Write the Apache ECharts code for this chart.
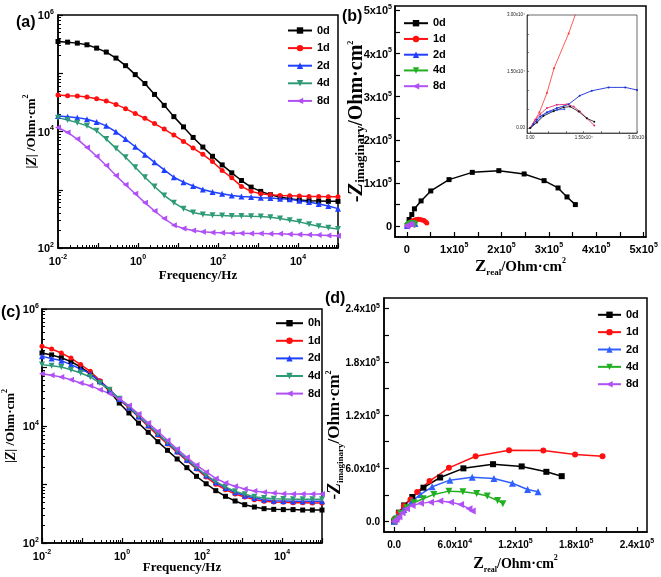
<!DOCTYPE html>
<html><head><meta charset="utf-8">
<script src="https://cdn.jsdelivr.net/npm/echarts@6/dist/echarts.min.js"></script>
<style>html,body{margin:0;padding:0;background:#fff}#c{width:661px;height:577px}</style>
</head><body><div id="c"></div>
<script>
// ---------- DATA ----------
const freq = [0.01,0.0174,0.0304,0.053,0.0924,0.161,0.281,0.489,0.853,1.49,2.59,4.52,7.88,13.7,23.9,41.8,72.8,127,221,386,672,1170,2040,3560,6210,10800,18900,32900,57400,100000];
// panel (a) |Z|
const a0d = [351000,342000,329000,308000,270000,231000,182000,135000,94800,66700,43300,28100,18000,12000,7910,5410,3750,2670,1950,1440,1110,938,822,750,703,667,650,641,632,632];
const a1d = [42200,41100,40600,39000,36600,33300,29200,24700,20300,16900,13700,11000,8670,6760,5200,4060,3040,2140,1600,1140,938,855,822,800,791,780,769,769,760,760];
const a2d = [18500,18000,17300,16200,14600,12500,9860,7400,5480,4000,2960,2190,1640,1350,1160,1010,912,855,800,769,750,731,721,703,684,650,617,570,527,474];
const a4d = [17300,15800,14200,12500,10300,7400,5130,3610,2430,1640,1140,800,600,474,406,375,366,361,356,356,351,347,337,321,300,281,256,237,222,211];
const a8d = [11700,9620,7400,5330,3750,2600,1750,1220,855,600,432,321,247,216,200,190,185,182,180,180,178,178,175,175,173,171,169,167,164,162];
// panel (c) |Z|
const c0h = [177000,164000,147000,126000,102000,78500,57300,39200,24700,16700,11200,7800,5400,3840,2730,1940,1380,1030,785,628,522,452,412,386,376,372,372,366,366,366];
const c1d = [230000,207000,177000,145000,112000,85900,59600,41800,28200,20300,14300,9860,6920,4920,3550,2550,1840,1340,1010,817,689,611,551,515,502,495,489,489,483,483];
const c2d = [155000,142000,131000,112000,94200,78500,58100,41800,29000,20800,14600,10300,7290,5120,3690,2650,1910,1420,1090,871,735,644,587,551,530,522,515,515,515,515];
const c4d = [112000,107000,102000,91800,80500,68900,54300,41800,29300,21100,15000,10500,7400,5260,3780,2730,1960,1440,1120,906,764,679,619,587,572,565,557,557,557,557];
const c8d = [78500,73500,68900,61900,54300,48900,41800,35700,29300,22300,16000,11200,8110,5690,4050,2910,2150,1640,1270,1060,931,838,774,735,716,697,689,689,689,689];
// panel (b) Nyquist [Zreal, -Zimag]
const b0d = [[1000,2000],[4800,15500],[10500,27000],[16000,40200],[30100,58600],[50500,81700],[89100,107900],[138200,124700],[194300,128600],[247700,121000],[289800,105500],[319300,88600],[338200,67800],[355800,50100]];
const b1d = [[500,300],[3000,4500],[6000,8500],[10500,11500],[15000,14000],[19600,15500],[24000,16000],[28000,15500],[32000,14500],[36400,13100],[39500,10500],[42100,7700]];
const b2d = [[300,300],[2000,3000],[5000,5500],[9000,7000],[13000,7200],[16000,6500],[18000,5500]];
const b4d = [[300,200],[2000,3000],[4500,5500],[8000,7000],[11000,7200],[13500,6800],[15500,5500],[16800,4000],[17500,2800]];
const b8d = [[0,-500],[1000,1500],[2500,3500],[4500,4800],[6500,5200],[8000,5000],[9500,4000],[10500,3000]];
// inset of (b), units of 1e4
const insRed = [[0,0],[0.26,0.42],[0.47,0.93],[0.67,1.59],[1.08,2.51],[1.45,3.5]];
const insBlue = [[0,0],[0.09,0.11],[0.19,0.22],[0.28,0.31],[0.47,0.42],[0.75,0.53],[1.08,0.63],[1.39,0.86],[1.73,0.99],[2.20,1.08],[2.67,1.08],[3.0,1.01],[3.3,0.9]];
const insBlue2 = [[0,0],[0.19,0.17],[0.37,0.35],[0.56,0.44],[0.75,0.48],[0.96,0.50]];
const insPink = [[0,0],[0.14,0.22],[0.28,0.37],[0.47,0.53],[0.75,0.62],[1.03,0.63],[1.22,0.57],[1.40,0.44],[1.59,0.26],[1.80,0.07]];
const insBlack = [[0,0],[0.19,0.15],[0.37,0.32],[0.66,0.45],[0.94,0.55],[1.12,0.57],[1.36,0.44],[1.59,0.26],[1.80,0.17]];
// panel (d) Nyquist
const d0d = [[0,0],[1300,2200],[4700,9800],[10000,18000],[18000,27500],[29000,38000],[45500,49500],[68500,59800],[97800,64500],[126100,62000],[150500,55900],[165700,51000]];
const d1d = [[0,0],[1400,2300],[4700,9800],[9600,17200],[16200,24800],[22800,33000],[35000,45400],[54200,60400],[80600,73500],[113600,80300],[147500,79900],[178900,75400],[206000,73500]];
const d2d = [[0,0],[3000,5300],[9600,13500],[17800,22900],[26100,30400],[37600,39000],[55100,46500],[77200,49900],[98700,48400],[117000,43000],[132000,36000],[142300,33400]];
const d4d = [[0,0],[2400,3000],[6300,9000],[12300,15400],[19500,21000],[28700,25500],[39300,30400],[54200,34100],[68000,33400],[81600,31500],[92100,28500],[102300,23600],[107500,20000]];
const d8d = [[0,0],[2000,2500],[4700,5300],[7900,9800],[12300,14300],[17800,18000],[26100,20300],[36000,21700],[45200,22900],[55800,21700],[65700,19100],[74000,14300],[77200,11600]];
// tick labels
const logXLabels = [0.01,1,100,10000];
const logXTicks = [0.01,0.1,1,10,100,1000,10000,100000];
const logYLabels = [100,10000,1000000];
const logYTicks = [100,1000,10000,100000,1000000];
const bLabels = [0,100000,200000,300000,400000,500000];
const bTicks = [0,50000,100000,150000,200000,250000,300000,350000,400000,450000,500000];
const dLabels = [0,60000,120000,180000,240000];
const dTicks = [0,30000,60000,90000,120000,150000,180000,210000,240000];
const insLabels = [0,1.5,3.0];

// ---------- STYLE ----------
const SANS = '"Liberation Sans Narrow","Liberation Sans",Arial,sans-serif';
const SERIF = '"Liberation Serif","Times New Roman",serif';
const BLK = '#000';
const COL = {k:'#000000', r:'#ff1010', b:'#2040ff', t:'#2f9a78', p:'#b050f5', g:'#22b022', bd:'#3060ff'};
const SYM = {sq:'rect', ci:'circle', up:'triangle', dn:'path://M0,0L10,0L5,9Z', lf:'path://M0,5L9,0L9,10Z'};

function minorLog(lo, hi){ const out=[]; for(let e=lo;e<hi;e++){ for(let m=2;m<10;m++) out.push(m*Math.pow(10,e)); } return out; }
function fmtLog(v){ const e=Math.round(Math.log10(v)); return '{b|10}{s|'+e+'}'; }
function fmtSci0(v){ if(v===0) return '{b|0}'; const e=Math.floor(Math.log10(v)+1e-9); return '{b|'+Math.round(v/Math.pow(10,e))+'x10}{s|'+e+'}'; }
function fmtSci1(v){ if(v===0) return '{b|0.0}'; const e=Math.floor(Math.log10(v)+1e-9); return '{b|'+(v/Math.pow(10,e)).toFixed(1)+'x10}{s|'+e+'}'; }
function labRich(fs){
  return {
    b:{fontSize:fs,fontWeight:'bold',fontFamily:SANS,color:BLK,lineHeight:fs+2,verticalAlign:'bottom'},
    s:{fontSize:7,fontWeight:'bold',fontFamily:SANS,color:BLK,lineHeight:7,verticalAlign:'top'}
  };
}
function nameRich(big, small){
  return {
    n:{fontSize:big,fontWeight:'bold',fontFamily:SERIF,color:BLK,lineHeight:20,verticalAlign:'middle'},
    z:{fontSize:big+1,fontWeight:'bold',fontStyle:'italic',fontFamily:SERIF,color:BLK,lineHeight:20,verticalAlign:'middle'},
    zr:{fontSize:big+2,fontWeight:'bold',fontFamily:SERIF,color:BLK,lineHeight:20,verticalAlign:'middle'},
    sub:{fontSize:small,fontWeight:'bold',fontFamily:SERIF,color:BLK,lineHeight:small+1,verticalAlign:'bottom'},
    p:{fontSize:8,fontWeight:'bold',fontFamily:SERIF,color:BLK,lineHeight:8,verticalAlign:'top'}
  };
}
function mainAxis(o){
  const ax = {
    gridIndex:o.g, type:o.type, min:o.min, max:o.max, position:o.pos,
    axisLine:{show:true,onZero:false,lineStyle:{color:BLK,width:1.5}},
    axisTick:{show:true,inside:true,length:o.tl||5,customValues:o.ticks,lineStyle:{color:BLK,width:1.2}},
    axisLabel:{show:true,customValues:o.labels,formatter:o.fmt,margin:o.margin,rich:labRich(o.fs||11),color:BLK},
    splitLine:{show:false}, minorTick:{show:false},
    name:o.name, nameLocation:'middle', nameGap:o.nameGap, nameRotate:o.rot||0, nameMoveOverlap:false,
    nameTextStyle:{rich:o.nameRich, padding:o.namePad||0}
  };
  if(o.type==='log') ax.logBase=10;
  return ax;
}
function minorAxis(o){
  return {gridIndex:o.g, type:'log', logBase:10, min:o.min, max:o.max, position:o.pos, offset:0,
    axisLine:{show:false,onZero:false}, axisTick:{show:true,inside:true,length:3,customValues:o.ticks,lineStyle:{color:BLK,width:1}},
    axisLabel:{show:false}, splitLine:{show:false}};
}
const titleZ = '{n||}{z|Z}{n|| /Ohm·cm}{p|2}';
const titleImag = '{n|-}{z|Z}{sub|imaginary}{n|/Ohm·cm}{p|2}';
const titleReal = '{zr|Z}{sub|real}{n|/Ohm·cm}{p|2}';
const titleFreq = '{n|Frequency/Hz}';

const xAxis = [
  mainAxis({g:0,type:'log',min:0.01,max:100000,pos:'bottom',ticks:logXTicks,labels:logXLabels,fmt:fmtLog,margin:6,name:titleFreq,nameGap:18,nameRich:nameRich(13,9)}),
  mainAxis({g:1,type:'value',min:-25000,max:505000,pos:'bottom',ticks:bTicks,labels:bLabels,fmt:fmtSci0,margin:5,name:titleReal,nameGap:20,nameRich:nameRich(15,9)}),
  mainAxis({g:2,type:'log',min:0.01,max:100000,pos:'bottom',ticks:logXTicks,labels:logXLabels,fmt:fmtLog,margin:6,name:titleFreq,nameGap:15,nameRich:nameRich(13,9)}),
  mainAxis({g:3,type:'value',min:-10000,max:250000,pos:'bottom',ticks:dTicks,labels:dLabels,fmt:fmtSci1,fs:10,margin:6,name:titleReal,nameGap:22,nameRich:nameRich(14,8)}),
  {gridIndex:4,type:'value',min:-0.09,max:3.0,position:'bottom',
    axisLine:{show:true,onZero:false,lineStyle:{color:'#333',width:0.8}},
    axisTick:{show:true,inside:true,length:2,customValues:[0,0.5,1,1.5,2,2.5,3],lineStyle:{color:'#333',width:0.6}},
    axisLabel:{customValues:insLabels,formatter:v=>v===0?'0.00':v.toFixed(2)+'x10⁴',fontSize:4.5,margin:2,color:'#222',fontFamily:SANS},
    splitLine:{show:false}},
  minorAxis({g:0,min:0.01,max:100000,pos:'bottom',ticks:minorLog(-2,5)}),
  minorAxis({g:2,min:0.01,max:100000,pos:'bottom',ticks:minorLog(-2,5)})
];
const yAxis = [
  mainAxis({g:0,type:'log',min:100,max:1000000,pos:'left',ticks:logYTicks,labels:logYLabels,fmt:fmtLog,margin:4,name:titleZ,nameGap:16,rot:90,nameRich:nameRich(13,9)}),
  mainAxis({g:1,type:'value',min:-25000,max:510000,pos:'left',ticks:bTicks,labels:bLabels,fmt:fmtSci0,margin:3,name:titleImag,nameGap:28,rot:90,nameRich:nameRich(20,13)}),
  mainAxis({g:2,type:'log',min:100,max:1000000,pos:'left',ticks:logYTicks,labels:logYLabels,fmt:fmtLog,margin:3,name:titleZ,nameGap:21,rot:90,nameRich:nameRich(13,9)}),
  mainAxis({g:3,type:'value',min:-12000,max:252000,pos:'left',ticks:dTicks,labels:dLabels,fmt:fmtSci1,fs:10,margin:4,name:titleImag,nameGap:39,rot:90,nameRich:nameRich(17,9),namePad:[0,40,0,0]}),
  {gridIndex:4,type:'value',min:-0.13,max:3.0,position:'left',
    axisLine:{show:true,onZero:false,lineStyle:{color:'#333',width:0.8}},
    axisTick:{show:true,inside:true,length:2,customValues:[0,0.5,1,1.5,2,2.5,3],lineStyle:{color:'#333',width:0.6}},
    axisLabel:{customValues:insLabels,formatter:v=>v===0?'0.00':v.toFixed(2)+'x10⁴',fontSize:4.5,margin:2,color:'#222',fontFamily:SANS},
    splitLine:{show:false}},
  minorAxis({g:0,min:100,max:1000000,pos:'left',ticks:minorLog(2,6)}),
  minorAxis({g:2,min:100,max:1000000,pos:'left',ticks:minorLog(2,6)})
];

function pairs(xs, ys){ return xs.map((x,i)=>[x, ys[i]]); }
function ser(name, data, color, sym, xi, size, lw){
  return {name, type:'line', data, xAxisIndex:xi, yAxisIndex:xi, symbol:sym, symbolSize:size,
    showSymbol:true, animation:false, clip:true,
    lineStyle:{color, width:lw||1.5}, itemStyle:{color, borderWidth:0}, emphasis:{disabled:true}};
}
const series = [
  ser('a_0d', pairs(freq,a0d), COL.k, SYM.sq, 0, 5),
  ser('a_1d', pairs(freq,a1d), COL.r, SYM.ci, 0, 5),
  ser('a_2d', pairs(freq,a2d), COL.b, SYM.up, 0, 6),
  ser('a_4d', pairs(freq,a4d), COL.t, SYM.dn, 0, 6),
  ser('a_8d', pairs(freq,a8d), COL.p, SYM.lf, 0, 6),
  ser('b_0d', b0d, COL.k, SYM.sq, 1, 5),
  ser('b_1d', b1d, COL.r, SYM.ci, 1, 5),
  ser('b_2d', b2d, COL.b, SYM.up, 1, 6),
  ser('b_4d', b4d, COL.g, SYM.dn, 1, 6),
  ser('b_8d', b8d, COL.p, SYM.lf, 1, 6),
  ser('c_0h', pairs(freq,c0h), COL.k, SYM.sq, 2, 5),
  ser('c_1d', pairs(freq,c1d), COL.r, SYM.ci, 2, 5),
  ser('c_2d', pairs(freq,c2d), COL.b, SYM.up, 2, 6),
  ser('c_4d', pairs(freq,c4d), COL.t, SYM.dn, 2, 6),
  ser('c_8d', pairs(freq,c8d), COL.p, SYM.lf, 2, 6),
  ser('d_0d', d0d, COL.k, SYM.sq, 3, 6),
  ser('d_1d', d1d, COL.r, SYM.ci, 3, 6),
  ser('d_2d', d2d, COL.bd, SYM.up, 3, 7),
  ser('d_4d', d4d, COL.g, SYM.dn, 3, 7),
  ser('d_8d', d8d, COL.p, SYM.lf, 3, 7),
  ser('i_red', insRed, '#ff3030', 'circle', 4, 2, 0.8),
  ser('i_blue', insBlue, '#1a2bd0', 'circle', 4, 2, 0.9),
  ser('i_blue2', insBlue2, '#3a5cff', 'circle', 4, 2, 0.8),
  ser('i_pink', insPink, '#e0307a', 'circle', 4, 2, 0.9),
  ser('i_black', insBlack, '#111111', 'circle', 4, 2, 0.8)
];
function leg(prefix, names, left, top, iw, gap){
  return {show:true, orient:'vertical', left, top, itemWidth:iw, itemHeight:8, itemGap:gap,
    selectedMode:false, padding:0, data:names.map(n=>prefix+n), formatter:n=>n.slice(2),
    textStyle:{fontFamily:SANS,fontWeight:'bold',fontSize:11,color:BLK,lineHeight:8,padding:[0,0,0,0]}};
}
const option = {
  backgroundColor:'#fff', animation:false,
  grid:[
    {left:58, top:15, width:280, height:233, show:true, borderColor:BLK, borderWidth:1.5},
    {left:395, top:6, width:251, height:231, show:true, borderColor:BLK, borderWidth:1.5},
    {left:42, top:309, width:280, height:234, show:true, borderColor:BLK, borderWidth:1.5},
    {left:384, top:298, width:263, height:234, show:true, borderColor:BLK, borderWidth:1.5},
    {left:527, top:15, width:110, height:118, show:true, borderColor:'#444', borderWidth:0.8, backgroundColor:'#fff'}
  ],
  xAxis, yAxis, series,
  legend:[
    leg('a_',['0d','1d','2d','4d','8d'], 287, 25, 24, 6.6),
    leg('b_',['0d','1d','2d','4d','8d'], 403, 17.7, 24, 4.75),
    leg('c_',['0h','1d','2d','4d','8d'], 275, 317.7, 27, 6.6),
    leg('d_',['0d','1d','2d','4d','8d'], 597, 309.3, 23, 6.35)
  ],
  graphic:[
    {type:'text', left:16, top:15, style:{text:'(a)', font:'bold 16px '+SANS, fill:BLK}},
    {type:'text', left:342, top:9, style:{text:'(b)', font:'bold 16px '+SANS, fill:BLK}},
    {type:'text', left:1, top:305, style:{text:'(c)', font:'bold 16px '+SANS, fill:BLK}},
    {type:'text', left:325, top:291, style:{text:'(d)', font:'bold 16px '+SANS, fill:BLK}}
  ]
};
const chart = echarts.init(document.getElementById('c'), null, {renderer:'canvas'});
chart.setOption(option);
</script>
</body></html>
